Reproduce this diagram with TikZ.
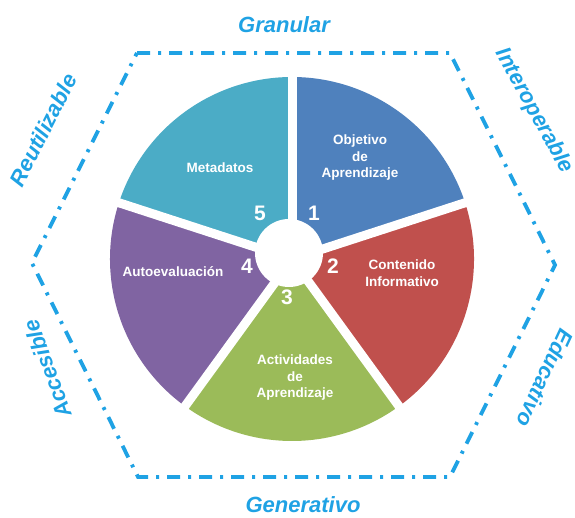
\documentclass[tikz,border=0pt]{standalone}
\usepackage{fontspec}
\setmainfont{Liberation Sans}
\usepackage{xcolor}
\definecolor{segcolor1}{HTML}{4F81BD}
\definecolor{segcolor2}{HTML}{C0504D}
\definecolor{segcolor3}{HTML}{9BBB59}
\definecolor{segcolor4}{HTML}{8064A2}
\definecolor{segcolor5}{HTML}{4BACC6}
\definecolor{hexcolor}{HTML}{1FA2E4}

\tikzset{
    hexline/.style = {draw = hexcolor, line width = 3.8pt, dash pattern = on 13pt off 8pt on 3pt off 8pt},
    gapline/.style = {draw = white, line width = 9pt},
    quality/.style = {text = hexcolor, font = \bfseries\itshape\fontsize{22}{26}\selectfont},
    seglabel/.style = {text = white, align = center, font = \bfseries\fontsize{13.5}{16.5}\selectfont},
    segnum/.style = {text = white, font = \bfseries\fontsize{21}{24}\selectfont}
}

\begin{document}
\begin{tikzpicture}[x = 1pt, y = 1pt]

        \useasboundingbox (0, 0) rectangle (575, 518);

        % Hexagon
        \coordinate (h1) at (137, 465);
        \coordinate (h2) at (450, 465);
        \coordinate (h3) at (555, 253);
        \coordinate (h4) at (450, 41);
        \coordinate (h5) at (138, 41);
        \coordinate (h6) at (32, 255);
        \draw [hexline] (h1) -- (h2) -- (h3) -- (h4) -- (h5) -- (h6) -- cycle;

        % Wheel
        \coordinate (c) at (292, 259);
        \fill [segcolor1] (c) -- ++(18:182) arc [start angle = 18, end angle = 90, radius = 182] -- cycle;
        \fill [segcolor2] (c) -- ++(-54:182) arc [start angle = -54, end angle = 18, radius = 182] -- cycle;
        \fill [segcolor3] (c) -- ++(-126:182) arc [start angle = -126, end angle = -54, radius = 182] -- cycle;
        \fill [segcolor4] (c) -- ++(162:182) arc [start angle = 162, end angle = 234, radius = 182] -- cycle;
        \fill [segcolor5] (c) -- ++(90:182) arc [start angle = 90, end angle = 162, radius = 182] -- cycle;

        \draw [gapline] (c) -- ++(90:190);
        \draw [gapline] (c) -- ++(18:190);
        \draw [gapline] (c) -- ++(-54:190);
        \draw [gapline] (c) -- ++(-126:190);
        \draw [gapline] (c) -- ++(162:190);

        \node [circle, fill = white, minimum size = 68pt, inner sep = 0pt] (hole) at (289, 265) {};

        % Segment texts
        \node [seglabel] (objetivo) at (360, 360) {Objetivo\\de\\Aprendizaje};
        \node [seglabel] (contenido) at (402, 245) {Contenido\\Informativo};
        \node [seglabel] (actividades) at (295, 140) {Actividades\\de\\Aprendizaje};
        \node [seglabel] (autoeval) at (173, 246) {Autoevaluación};
        \node [seglabel] (metadatos) at (220, 350) {Metadatos};

        \node [segnum] (n1) at (314, 305) {1};
        \node [segnum] (n2) at (333, 252) {2};
        \node [segnum] (n3) at (287, 221) {3};
        \node [segnum] (n4) at (247, 252) {4};
        \node [segnum] (n5) at (260, 305) {5};

        % Qualities
        \node [quality] (granular) at (284, 493) {Granular};
        \node [quality, rotate = -61] (interoperable) at (534, 407) {Interoperable};
        \node [quality, rotate = -115] (educativo) at (545, 140) {Educativo};
        \node [quality] (generativo) at (303, 13) {Generativo};
        \node [quality, rotate = 110] (accesible) at (47, 149) {Accesible};
        \node [quality, rotate = 63] (reutilizable) at (43, 388) {Reutilizable};

    \end{tikzpicture}
\end{document}
